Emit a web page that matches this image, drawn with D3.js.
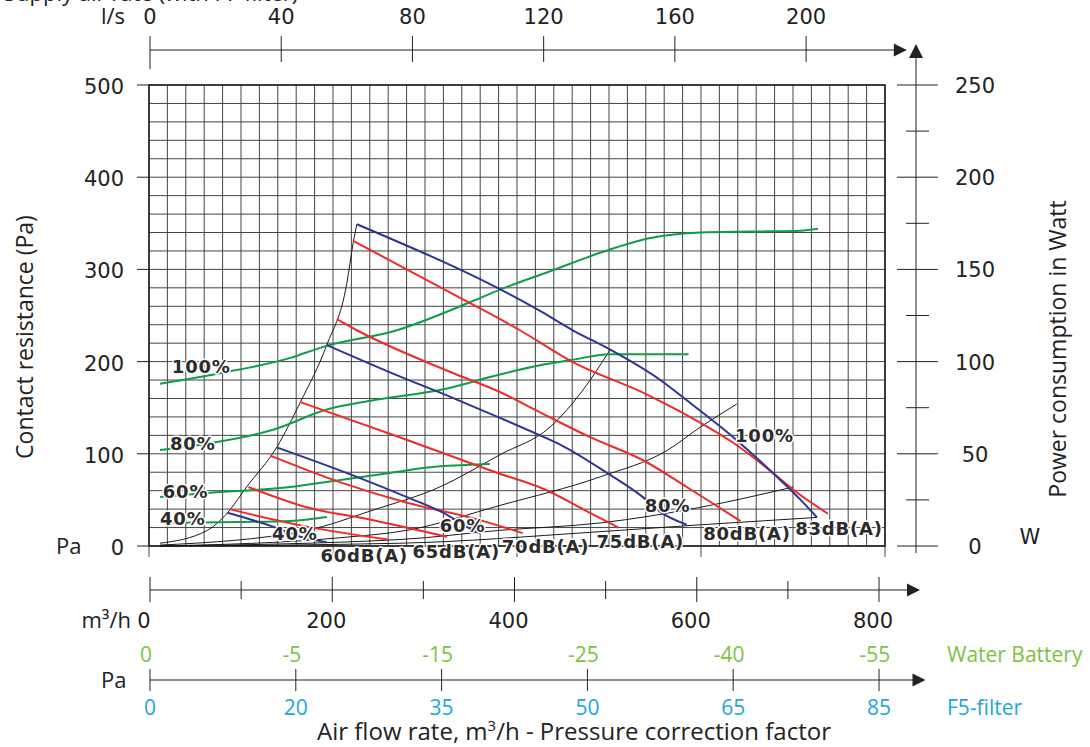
<!DOCTYPE html>
<html>
<head>
<meta charset="utf-8">
<script src="https://cdn.jsdelivr.net/npm/d3@7"></script>
<style>
body { margin:0; background:#fff; }
svg { display:block; background:#fff; }
text { font-family:"DejaVu Sans", sans-serif; fill:#222; }
.word { font-family:"Open Sans", sans-serif; }
.lbl { font-size:18px; font-weight:bold; letter-spacing:0.8px; fill:#2b2b2b; paint-order:stroke; stroke:#fff; stroke-width:3px; stroke-linejoin:round; }
</style>
</head>
<body>
<svg id="chart" width="1090" height="747"></svg>
<script>

/**
 * Tick values for the axes
 */
var flowTicks = [0, 200, 400, 600, 800];
var flowMinorTicks = [100, 300, 500, 700];
var lsTicks = [0, 40, 80, 120, 160, 200];
var paTicks = [0, 100, 200, 300, 400, 500];
var wattTicks = [0, 50, 100, 150, 200, 250];
var wattMinorTicks = [25, 75, 125, 175, 225];
var corrFlow = [0, 160, 320, 480, 640, 800];
var waterBattery = ["0", "-5", "-15", "-25", "-40", "-55"];
var f5Filter = ["0", "20", "35", "50", "65", "85"];

/**
 * Fan curves at different speeds, [m3/h, Pa]
 */
var fanNames = ["40%", "60%", "80%", "100%"];
var fan40 = [[85,36],[135,21],[165,10],[194,4]];
var fan60 = [[139,107],[227,75],[282,53],[322,36],[355,17],[362,14]];
var fan80 = [[194,218],[274,184],[329,162],[384,139],[428,120],[450,110],[502,79],[541,53],[560,37],[589,23]];
var fan100 = [[227,349],[428,255],[464,234],[505,213],[560,180],[589,158],[640,118],[688,75],[714,50],[732,31]];
var fanLabelAt = [[134,6.5],[318,15],[543,37],[642,113]];

/**
 * Sound level lines, [m3/h, Pa]
 */
var dbNames = ["60dB(A)", "65dB(A)", "70dB(A)", "75dB(A)", "80dB(A)", "83dB(A)"];
var db60 = [[87,40],[172,21],[261,7]];
var db65 = [[108,64],[172,42],[245,28],[326,10]];
var db70 = [[132,98],[209,69],[282,47],[355,30],[409,14]];
var db75 = [[165,156],[274,118],[379,80],[434,61],[477,39],[514,20]];
var db80 = [[205,246],[227,234],[329,189],[384,167],[428,145],[483,118],[541,93],[589,64],[648,27]];
var db83 = [[223,331],[329,275],[406,234],[463,200],[546,164],[589,142],[640,112],[684,79],[706,61],[744,35]];
var dbLabelAt = [[187,-17],[288,-13],[386,-8],[490,-2],[607,6.5],[708,12]];

/**
 * Power consumption per speed, [m3/h, W]
 */
var pow40 = [[11,12.5],[99,13],[154,13.6],[194,15.7]];
var pow60 = [[11,26.6],[63,28.7],[154,32],[209,35.8],[263,39.6],[318,43.2],[351,44],[373,44.5]];
var pow80 = [[11,52],[69,56],[135,63],[194,74],[245,79],[322,85],[384,93],[428,98],[464,101],[505,104],[591,104]];
var pow100 = [[11,88],[80,94],[154,102],[190,108],[271,117],[355,133],[384,139],[439,149],[494,159],[549,167],[604,170],[659,170.5],[714,171],[733,172]];
var powLabelAt = [[11,11.4],[14,26],[22,52],[24,93.8]];

/**
 * System curves, [m3/h, Pa]
 */
var sysEdge = [[11,3],[63,17],[85,36],[106,64],[139,107],[165,156],[194,218],[216,285],[223,329],[227,349]];
var sys1 = [[11,1],[172,17],[245,39],[318,64],[384,99],[439,129],[475,169],[505,213]];
var sys2 = [[11,0],[209,9],[282,17],[384,44],[494,75],[568,104],[604,129],[644,154]];
var sys3 = [[11,0],[274,7],[384,17],[494,25],[604,42],[706,64]];
var sys4 = [[11,0],[274,3],[486,15],[604,23],[732,31]];

var svg = d3.select("#chart");

var x = d3.scaleLinear().domain([0, 800]).range([150, 879]);
var yPa = d3.scaleLinear().domain([0, 500]).range([546, 85]);
var yW = d3.scaleLinear().domain([0, 250]).range([546, 85]);
var gx = d3.scaleLinear().domain([0, 40]).range([149, 885]);   // grid columns
var gy = d3.scaleLinear().domain([0, 25]).range([546, 85]);    // grid rows

var lsAxisY = 50, flowAxisY = 590, corrAxisY = 680, wattAxisX = 916;

var green = "#0f9d4a", blue = "#2e3591", red = "#ee2b2b";
var lightGreen = "#7dc242", cyan = "#1aa8da";

function arrowRight (xTip, y) {
	svg.append("path")
		.attr("d", "M" + xTip + "," + y + "L" + (xTip - 13) + "," + (y - 6.5) + "L" + (xTip - 13) + "," + (y + 6.5) + "Z")
		.attr("fill", "#222");
}

/**
 * Grid
 */
var grid = svg.append("g");
grid.selectAll("line.v").data(d3.range(41)).join("line")
	.attr("class", "v")
	.attr("x1", d => gx(d)).attr("x2", d => gx(d))
	.attr("y1", gy(25))
	.attr("y2", d => d % 10 == 0 ? gy(0) + 11 : gy(0))
	.attr("stroke", "#444").attr("stroke-width", 1);
grid.selectAll("line.h").data(d3.range(26)).join("line")
	.attr("class", "h")
	.attr("x1", gx(0)).attr("x2", gx(40))
	.attr("y1", d => gy(d)).attr("y2", d => gy(d))
	.attr("stroke", "#444").attr("stroke-width", 1);
grid.append("rect")
	.attr("x", gx(0)).attr("y", gy(25))
	.attr("width", gx(40) - gx(0)).attr("height", gy(0) - gy(25))
	.attr("fill", "none").attr("stroke", "#222").attr("stroke-width", 1.6);

/**
 * Left axis (Pa)
 */
svg.selectAll("line.paTick").data(paTicks).join("line")
	.attr("class", "paTick")
	.attr("x1", gx(0) - 12).attr("x2", gx(0))
	.attr("y1", d => yPa(d)).attr("y2", d => yPa(d))
	.attr("stroke", "#222");
svg.selectAll("text.paLbl").data(paTicks).join("text")
	.attr("class", "paLbl")
	.attr("x", 124).attr("y", d => yPa(d) + 2)
	.attr("text-anchor", "end").attr("dominant-baseline", "central")
	.attr("font-size", 21)
	.text(d => d);
svg.append("text").attr("class", "word").attr("x", 56).attr("y", yPa(0) + 8)
	.attr("font-size", 22).text("Pa");
svg.append("text").attr("class", "word")
	.attr("transform", "translate(33,337) rotate(-90)")
	.attr("text-anchor", "middle").attr("font-size", 23)
	.text("Contact resistance (Pa)");

/**
 * Right axis (W)
 */
svg.append("line")
	.attr("x1", wattAxisX).attr("x2", wattAxisX)
	.attr("y1", yW(0) + 7).attr("y2", yW(250) - 27)
	.attr("stroke", "#222");
svg.append("path")
	.attr("d", "M" + wattAxisX + "," + (yW(250) - 41) + "L" + (wattAxisX - 7) + "," + (yW(250) - 27) + "L" + (wattAxisX + 7) + "," + (yW(250) - 27) + "Z")
	.attr("fill", "#222");
svg.selectAll("line.wTick").data(wattTicks).join("line")
	.attr("class", "wTick")
	.attr("x1", wattAxisX - 19).attr("x2", wattAxisX + 22)
	.attr("y1", d => yW(d)).attr("y2", d => yW(d))
	.attr("stroke", "#222");
svg.selectAll("line.wMinor").data(wattMinorTicks).join("line")
	.attr("class", "wMinor")
	.attr("x1", wattAxisX - 10).attr("x2", wattAxisX + 13)
	.attr("y1", d => yW(d)).attr("y2", d => yW(d))
	.attr("stroke", "#222");
svg.selectAll("text.wLbl").data(wattTicks).join("text")
	.attr("class", "wLbl")
	.attr("x", 975).attr("y", d => yW(d) + 1)
	.attr("text-anchor", "middle").attr("dominant-baseline", "central")
	.attr("font-size", 21)
	.text(d => d);
svg.append("text").attr("x", 1030).attr("y", yW(0) - 9)
	.attr("text-anchor", "middle").attr("dominant-baseline", "central")
	.attr("font-size", 21).text("W");
svg.append("text").attr("class", "word")
	.attr("transform", "translate(1066,349) rotate(-90)")
	.attr("text-anchor", "middle").attr("font-size", 23)
	.text("Power consumption in Watt");

/**
 * Top axis (l/s)
 */
svg.append("line")
	.attr("x1", x(0)).attr("x2", x(825))
	.attr("y1", lsAxisY).attr("y2", lsAxisY)
	.attr("stroke", "#222");
arrowRight(x(830) + 0.5, lsAxisY);
svg.selectAll("line.lsTick").data(lsTicks).join("line")
	.attr("class", "lsTick")
	.attr("x1", d => x(d * 3.6)).attr("x2", d => x(d * 3.6))
	.attr("y1", 36).attr("y2", d => d == 0 ? 69 : 62)
	.attr("stroke", "#222");
svg.selectAll("text.lsLbl").data(lsTicks).join("text")
	.attr("class", "lsLbl")
	.attr("x", d => x(d * 3.6)).attr("y", 24)
	.attr("text-anchor", "middle").attr("font-size", 21)
	.text(d => d);
svg.append("text").attr("class", "word").attr("x", 101).attr("y", 24)
	.attr("font-size", 22).text("l/s");
svg.append("text").attr("class", "word").attr("x", 4).attr("y", 1)
	.attr("font-size", 22).text("Supply air rate (with F7 filter)");

/**
 * Bottom axis (m3/h)
 */
svg.append("line")
	.attr("x1", x(0)).attr("x2", x(838))
	.attr("y1", flowAxisY).attr("y2", flowAxisY)
	.attr("stroke", "#222");
arrowRight(x(845), flowAxisY);
svg.selectAll("line.fTick").data(flowTicks).join("line")
	.attr("class", "fTick")
	.attr("x1", d => x(d)).attr("x2", d => x(d))
	.attr("y1", flowAxisY - 13).attr("y2", flowAxisY + 12)
	.attr("stroke", "#222");
svg.selectAll("line.fMinor").data(flowMinorTicks).join("line")
	.attr("class", "fMinor")
	.attr("x1", d => x(d)).attr("x2", d => x(d))
	.attr("y1", flowAxisY - 9).attr("y2", flowAxisY + 9)
	.attr("stroke", "#222");
svg.selectAll("text.fLbl").data(flowTicks).join("text")
	.attr("class", "fLbl")
	.attr("x", d => x(d) - 6).attr("y", flowAxisY + 38)
	.attr("text-anchor", "middle").attr("font-size", 21)
	.text(d => d);
svg.append("text").attr("class", "word").attr("x", 131).attr("y", flowAxisY + 38)
	.attr("text-anchor", "end").attr("font-size", 22).text("m³/h");

/**
 * Pressure correction axis
 */
svg.append("line")
	.attr("x1", x(0)).attr("x2", x(844))
	.attr("y1", corrAxisY).attr("y2", corrAxisY)
	.attr("stroke", "#222");
arrowRight(x(851), corrAxisY);
svg.selectAll("line.cTick").data(corrFlow).join("line")
	.attr("class", "cTick")
	.attr("x1", d => x(d)).attr("x2", d => x(d))
	.attr("y1", corrAxisY - 11).attr("y2", corrAxisY + 11)
	.attr("stroke", "#222");
svg.selectAll("text.wb").data(corrFlow).join("text")
	.attr("class", "wb word")
	.attr("x", d => x(d) - 4).attr("y", corrAxisY - 18)
	.attr("text-anchor", "middle").attr("font-size", 21)
	.style("fill", lightGreen)
	.text((d, i) => waterBattery[i]);
svg.selectAll("text.ff").data(corrFlow).join("text")
	.attr("class", "ff word")
	.attr("x", d => x(d)).attr("y", corrAxisY + 35)
	.attr("text-anchor", "middle").attr("font-size", 21)
	.style("fill", cyan)
	.text((d, i) => f5Filter[i]);
svg.append("text").attr("class", "word").attr("x", 947).attr("y", corrAxisY - 18)
	.attr("font-size", 21).style("fill", lightGreen).text("Water Battery");
svg.append("text").attr("class", "word").attr("x", 947).attr("y", corrAxisY + 35)
	.attr("font-size", 21).style("fill", cyan).text("F5-filter");
svg.append("text").attr("class", "word").attr("x", 101).attr("y", corrAxisY + 8)
	.attr("font-size", 22).text("Pa");

var title = svg.append("text").attr("class", "word")
	.attr("x", 574).attr("y", 740)
	.attr("text-anchor", "middle").attr("font-size", 24);
title.append("tspan").text("Air flow rate, m");
title.append("tspan").attr("dy", -9).attr("font-size", 15).text("3");
title.append("tspan").attr("dy", 9).text("/h - Pressure correction factor");
svg.append("text").attr("class", "word").attr("x", 4).attr("y", 764)
	.attr("font-size", 22).text("Fan curves tested with F7 filter");

/**
 * Curves
 */
var linePa = d3.line().x(d => x(d[0])).y(d => yPa(d[1])).curve(d3.curveMonotoneX);
var lineW = d3.line().x(d => x(d[0])).y(d => yW(d[1])).curve(d3.curveMonotoneX);

var curves = svg.append("g").attr("fill", "none").attr("stroke-linejoin", "round");

[sysEdge, sys1, sys2, sys3, sys4].forEach(function (s) {
	curves.append("path").attr("d", linePa(s)).attr("stroke", "#1a1a1a").attr("stroke-width", 1);
});
[pow40, pow60, pow80, pow100].forEach(function (s) {
	curves.append("path").attr("d", lineW(s)).attr("stroke", green).attr("stroke-width", 2);
});
[db60, db65, db70, db75, db80, db83].forEach(function (s) {
	curves.append("path").attr("d", linePa(s)).attr("stroke", red).attr("stroke-width", 2);
});
[fan40, fan60, fan80, fan100].forEach(function (s) {
	curves.append("path").attr("d", linePa(s)).attr("stroke", blue).attr("stroke-width", 2);
});

/**
 * Curve labels
 */
svg.selectAll("text.powLbl").data(fanNames).join("text")
	.attr("class", "powLbl lbl")
	.attr("x", (d, i) => x(powLabelAt[i][0])).attr("y", (d, i) => yW(powLabelAt[i][1]))
	.text(d => d);
svg.selectAll("text.fanLbl").data(fanNames).join("text")
	.attr("class", "fanLbl lbl")
	.attr("x", (d, i) => x(fanLabelAt[i][0])).attr("y", (d, i) => yPa(fanLabelAt[i][1]))
	.text(d => d);
svg.selectAll("text.dbLbl").data(dbNames).join("text")
	.attr("class", "dbLbl lbl")
	.attr("x", (d, i) => x(dbLabelAt[i][0])).attr("y", (d, i) => yPa(dbLabelAt[i][1]))
	.text(d => d);

</script>
</body>
</html>
